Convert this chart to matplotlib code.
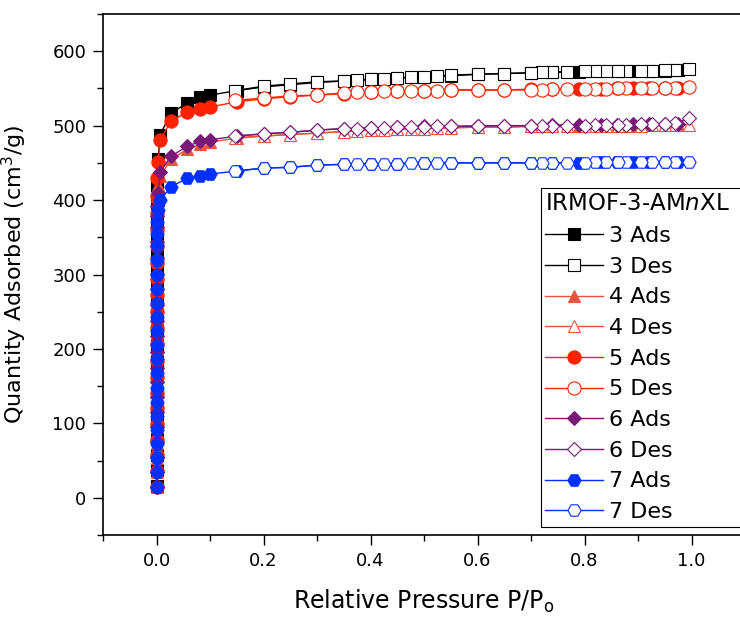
import matplotlib

matplotlib.use("Agg")
import matplotlib.pyplot as plt
from matplotlib.ticker import MultipleLocator

# relative pressure points, shared by all samples
pressureAds = [
    0.00002, 0.00004, 0.00006, 0.00008, 0.0001, 0.00012, 0.00015, 0.00018, 0.00022, 0.00026,
    0.0003, 0.00035, 0.0004, 0.00048, 0.00056, 0.00066, 0.00078, 0.0009, 0.0011, 0.0014,
    0.003, 0.007, 0.027, 0.057, 0.082, 0.1, 0.15, 0.2, 0.25, 0.3,
    0.35, 0.4, 0.45, 0.5, 0.55, 0.6, 0.65, 0.7, 0.74, 0.79,
    0.83, 0.86, 0.89, 0.92, 0.95, 0.975,
]
pressureDes = [
    0.995, 0.97, 0.95, 0.927, 0.906, 0.878, 0.862, 0.84, 0.82, 0.80,
    0.768, 0.74, 0.72, 0.70, 0.65, 0.60, 0.55, 0.525, 0.50, 0.475,
    0.45, 0.425, 0.40, 0.375, 0.35, 0.30, 0.25, 0.20, 0.147,
]

# quantity adsorbed in cm3/g
ads3 = [
    16, 37, 58, 79, 100, 121, 142, 163, 184, 205, 226, 247, 268, 289, 310, 331, 352, 373, 396, 420,
    455, 488, 517, 530, 538, 541, 547, 552, 555, 558, 560, 562, 564, 566, 567, 569, 570, 571, 572,
    572, 573, 573, 574, 574, 574, 575,
]
des3 = [
    576, 575, 575, 574, 574, 574, 573, 573, 573, 573, 572, 572, 572, 571, 570, 569, 568, 567, 566,
    565, 564, 563, 562, 561, 560, 559, 556, 553, 547,
]
ads4 = [
    14, 34, 54, 74, 95, 116, 137, 158, 179, 200, 221, 242, 263, 284, 305, 326, 347, 368, 388, 405,
    420, 432, 455, 468, 475, 478, 483, 486, 488, 490, 492, 494, 495, 496, 497, 498, 498, 499, 499,
    500, 500, 500, 500, 501, 501, 501,
]
des4 = [
    501, 501, 501, 501, 500, 500, 500, 500, 500, 500, 499, 499, 499, 499, 498, 498, 497, 497, 496,
    496, 495, 494, 494, 493, 492, 490, 488, 486, 484,
]
ads5 = [
    15, 36, 57, 78, 99, 120, 141, 162, 184, 206, 228, 250, 272, 294, 316, 338, 360, 383, 406, 430,
    451, 481, 506, 518, 523, 525, 532, 536, 539, 541, 543, 545, 546, 547, 548, 548, 548, 549, 549,
    549, 549, 550, 550, 550, 550, 551,
]
des5 = [
    552, 551, 551, 550, 550, 550, 550, 549, 549, 549, 549, 549, 548, 548, 548, 548, 548, 547, 547,
    547, 546, 546, 545, 545, 544, 541, 540, 537, 534,
]
ads6 = [
    15, 35, 55, 75, 95, 115, 135, 155, 175, 196, 217, 238, 259, 280, 301, 322, 343, 364, 378, 392,
    409, 438, 459, 472, 479, 481, 486, 489, 491, 494, 496, 497, 498, 499, 499, 500, 500, 500, 501,
    501, 501, 501, 502, 502, 502, 502,
]
des6 = [
    510, 503, 502, 502, 502, 501, 501, 501, 501, 500, 500, 500, 500, 500, 500, 499, 499, 499, 498,
    498, 498, 497, 497, 496, 496, 494, 491, 489, 486,
]
ads7 = [
    15, 34, 53, 72, 91, 110, 129, 148, 167, 186, 205, 224, 243, 262, 281, 300, 319, 338, 355, 370,
    386, 400, 418, 429, 433, 435, 439, 443, 444, 447, 448, 449, 449, 450, 450, 450, 450, 450, 450,
    450, 451, 451, 451, 451, 451, 451,
]
des7 = [
    451, 451, 451, 451, 451, 451, 451, 451, 451, 450, 450, 450, 450, 450, 450, 450, 450, 450, 450,
    450, 449, 449, 449, 448, 448, 447, 444, 443, 439,
]

samples = ["3", "4", "5", "6", "7"]
adsData = [ads3, ads4, ads5, ads6, ads7]
desData = [des3, des4, des5, des6, des7]
colors = ["black", "#E8553F", "#FF2200", "#7A1A78", "#0030FF"]
markers = ["s", "^", "o", "D", "H"]
markerSizes = [8, 9, 9.5, 7, 9.5]

fig = plt.figure(figsize=(7.4, 6.17), dpi=100)
axis = fig.add_axes([103 / 740, 82 / 617, 642 / 740, 521 / 617])

for name, ads, des, color, marker, size in zip(
    samples, adsData, desData, colors, markers, markerSizes
):
    axis.plot(
        pressureAds, ads,
        color=color, linewidth=1.0, marker=marker, markersize=size,
        markerfacecolor=color, markeredgecolor=color, markeredgewidth=0.8,
        label=f"{name} Ads",
    )
    axis.plot(
        pressureDes, des,
        color=color, linewidth=1.0, marker=marker, markersize=size,
        markerfacecolor="white", markeredgecolor=color, markeredgewidth=0.8,
        label=f"{name} Des",
    )

axis.set_xlim(-0.1, 1.1)
axis.set_ylim(-50, 650)
axis.xaxis.set_major_locator(MultipleLocator(0.2))
axis.xaxis.set_minor_locator(MultipleLocator(0.1))
axis.yaxis.set_major_locator(MultipleLocator(100))
axis.yaxis.set_minor_locator(MultipleLocator(50))
axis.xaxis.set_major_formatter(lambda v, pos: f"{v:.1f}")
axis.yaxis.set_major_formatter(lambda v, pos: f"{v:.0f}")
axis.tick_params(which="both", direction="out", width=1.0, labelsize=13, pad=5)
axis.tick_params(which="major", length=7)
axis.tick_params(which="minor", length=4)
for spine in axis.spines.values():
    spine.set_linewidth(1.2)

axis.set_xlabel(r"Relative Pressure P/P$_\mathregular{o}$", fontsize=17, labelpad=13)
axis.set_ylabel(r"Quantity Adsorbed (cm$^\mathregular{3}$/g)", fontsize=16, labelpad=17)

# legend box runs past the right edge of the figure
legend = axis.legend(
    loc="upper left",
    bbox_to_anchor=(541 / 740, 0, 215 / 740, 1 - 188 / 617),
    bbox_transform=fig.transFigure,
    mode="expand",
    title=r"IRMOF-3-AM$\it{n}$XL",
    fontsize=16,
    title_fontsize=16.5,
    alignment="left",
    fancybox=False,
    edgecolor="black",
    framealpha=1,
    borderpad=0.2,
    borderaxespad=0,
    labelspacing=0.48,
    handlelength=2.6,
    handletextpad=0.25,
    numpoints=1,
)
legend.get_frame().set_linewidth(0.8)

fig.savefig("out.png", dpi=100)
